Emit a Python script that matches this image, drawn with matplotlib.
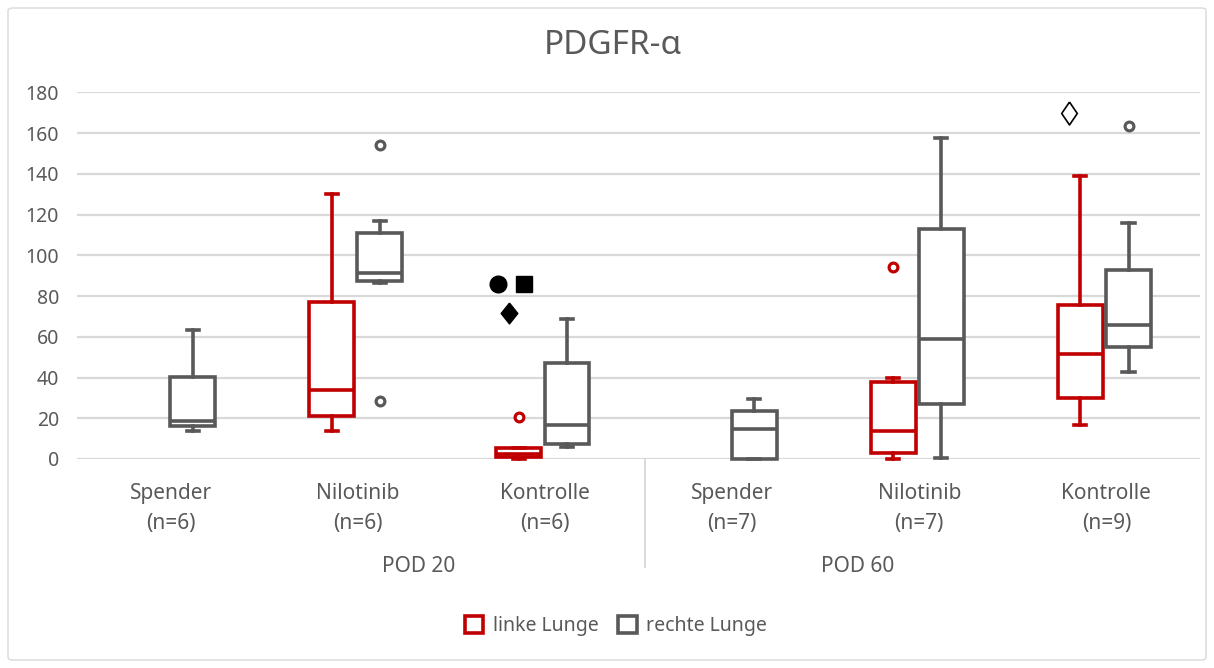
import matplotlib
matplotlib.use("Agg")
import matplotlib.pyplot as plt
from matplotlib.patches import Patch, FancyBboxPatch

# ---------------- data ----------------
categories = ["Spender\n(n=6)", "Nilotinib\n(n=6)", "Kontrolle\n(n=6)",
              "Spender\n(n=7)", "Nilotinib\n(n=7)", "Kontrolle\n(n=9)"]
groups = ["POD 20", "POD 60"]
series_names = ["linke Lunge", "rechte Lunge"]

# linke Lunge (None = no box)
left_whislo = [None, 13.6, 0.0, None, 0.0, 16.9]
left_q1     = [None, 21.0, 1.0, None, 2.8, 30.0]
left_med    = [None, 34.0, 2.5, None, 13.9, 51.3]
left_q3     = [None, 77.1, 5.5, None, 37.7, 75.8]
left_whishi = [None, 129.9, 5.5, None, 39.7, 138.8]
left_fliers = [[], [], [20.5], [], [94.3], []]

# rechte Lunge
right_whislo = [13.9, 86.4, 5.7, 0.0, 0.3, 42.8]
right_q1     = [16.4, 87.4, 7.4, 0.0, 27.0, 54.9]
right_med    = [18.8, 91.5, 16.9, 14.8, 58.7, 65.9]
right_q3     = [40.2, 111.0, 47.0, 23.8, 112.7, 93.0]
right_whishi = [63.5, 116.8, 68.7, 29.5, 157.5, 115.6]
right_fliers = [[], [154.2, 28.7], [], [], [], [163.7]]

# significance symbols (category position, value)
sig_circle = (2.75, 85.8)
sig_square = (2.89, 85.8)
sig_diamond = (2.81, 71.8)
sig_open_diamond = (5.80, 169.8)

yticks = [0, 20, 40, 60, 80, 100, 120, 140, 160, 180]

# ---------------- style ----------------
RED = "#C00000"
GREY = "#595959"
GRID = "#D9D9D9"
TXT = "#595959"
FONT = ["Noto Sans", "DejaVu Sans"]
plt.rcParams["font.family"] = FONT

W, H = 1214, 668
fig = plt.figure(figsize=(W / 100, H / 100), dpi=100)
fig.patch.set_facecolor("white")

# chart border
border = FancyBboxPatch((8 / W, 8 / H), (1198) / W, (652) / H,
                        boxstyle="round,pad=0,rounding_size=0.004",
                        transform=fig.transFigure, facecolor="none",
                        edgecolor=GRID, linewidth=1.0)
fig.patches.append(border)

ax_left, ax_right = 77 / W, 1200 / W
ax_bottom, ax_top = (H - 459) / H, (H - 92.3) / H
ax = fig.add_axes([ax_left, ax_bottom, ax_right - ax_left, ax_top - ax_bottom])
ax.set_xlim(0.5, 6.5)
ax.set_ylim(0, 180)
for s in ax.spines.values():
    s.set_visible(False)
ax.set_yticks(yticks)
ax.yaxis.grid(True, color=GRID, linewidth=1.6)
ax.set_axisbelow(True)
ax.tick_params(axis="y", length=0, pad=13, labelsize=14, labelcolor=TXT)
ax.set_xticks(range(1, 7))
ax.set_xticklabels(categories, linespacing=1.58)
ax.tick_params(axis="x", length=0, pad=17, labelsize=15, labelcolor=TXT)

box_w = 0.24
off_left, off_right = -0.139, 0.118
lw = 2.6


def make_stats(lo, q1, med, q3, hi, fl):
    stats, pos = [], []
    for i in range(len(lo)):
        if lo[i] is None:
            continue
        stats.append(dict(whislo=lo[i], q1=q1[i], med=med[i], q3=q3[i],
                          whishi=hi[i], fliers=fl[i]))
        pos.append(i + 1)
    return stats, pos


for (lo, q1, med, q3, hi, fl), off, col in [
        ((left_whislo, left_q1, left_med, left_q3, left_whishi, left_fliers), off_left, RED),
        ((right_whislo, right_q1, right_med, right_q3, right_whishi, right_fliers), off_right, GREY)]:
    stats, pos = make_stats(lo, q1, med, q3, hi, fl)
    arts = ax.bxp(stats, positions=[p + off for p in pos], widths=box_w,
                  capwidths=0.065, patch_artist=True, manage_ticks=False,
                  boxprops=dict(facecolor="white", edgecolor=col, linewidth=lw),
                  whiskerprops=dict(color=col, linewidth=lw),
                  capprops=dict(color=col, linewidth=lw),
                  medianprops=dict(color=col, linewidth=lw),
                  flierprops=dict(marker="o", markersize=6.3, markerfacecolor="white",
                                  markeredgecolor=col, markeredgewidth=2.3))
    for k in arts:
        for a in arts[k]:
            a.set_clip_on(False)

# significance symbols
wide_diamond = [(0, 1), (0.8, 0), (0, -1), (-0.8, 0), (0, 1)]
tall_diamond = [(0, 1), (0.68, 0), (0, -1), (-0.68, 0), (0, 1)]
ax.plot(*sig_circle, marker="o", markersize=12, color="black", linestyle="none", clip_on=False)
ax.plot(*sig_square, marker="s", markersize=11, color="black", linestyle="none", clip_on=False)
ax.plot(*sig_diamond, marker=wide_diamond, markersize=15, color="black",
        linestyle="none", clip_on=False)
ax.plot(*sig_open_diamond, marker=tall_diamond, markersize=16.5, markerfacecolor="white",
        markeredgecolor="black", markeredgewidth=1.2, linestyle="none", clip_on=False)

# group labels and separator
xt = ax.get_xaxis_transform()
ax.plot([3.534, 3.534], [0, -0.294], transform=xt, color=GRID, linewidth=1.4, clip_on=False)
ax.text(2.327, -0.294, groups[0], transform=xt, ha="center", va="center",
        fontsize=15, color=TXT)
ax.text(4.672, -0.294, groups[1], transform=xt, ha="center", va="center",
        fontsize=15, color=TXT)

# title
fig.text(613 / W, 1 - 46 / H, "PDGFR-α", ha="center", va="center", fontsize=24, color=TXT)

# legend
handles = [Patch(facecolor="white", edgecolor=RED, linewidth=2.6, label=series_names[0]),
           Patch(facecolor="white", edgecolor=GREY, linewidth=2.6, label=series_names[1])]
leg = fig.legend(handles=handles, loc="center", bbox_to_anchor=(616 / W, 1 - 626 / H),
                 ncol=2, frameon=False, fontsize=14, handlelength=0.95, handleheight=0.95,
                 handletextpad=0.5, columnspacing=1.0)
for t in leg.get_texts():
    t.set_color(TXT)

fig.savefig("out.png", dpi=100, facecolor="white")
